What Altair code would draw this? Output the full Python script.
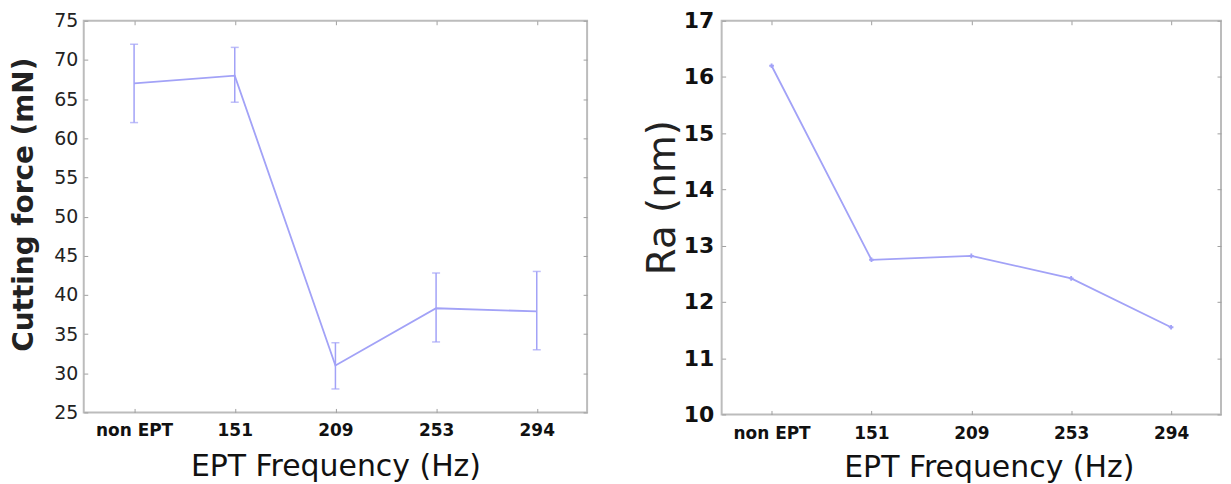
import altair as alt
import pandas as pd

categories = ["non EPT", "151", "209", "253", "294"]
force_mean = [67.0, 68.0, 31.0, 38.3, 37.9]
force_low = [62.0, 64.6, 28.0, 34.0, 33.0]
force_high = [72.0, 71.6, 33.9, 42.8, 43.0]
ra_values = [16.2, 12.75, 12.82, 12.42, 11.55]

force_ticks = [25, 30, 35, 40, 45, 50, 55, 60, 65, 70, 75]
ra_ticks = [10, 11, 12, 13, 14, 15, 16, 17]

LINE = "#a2a2f7"
FRAME = "#bcbcbc"
TICK = "#a0a0a0"
FONT = "DejaVu Sans"

df1 = pd.DataFrame({"cat": categories, "mean": force_mean, "lo": force_low, "hi": force_high})
df2 = pd.DataFrame({"cat": categories, "ra": ra_values})


def xenc(size, pad, tpad, tsize, **extra):
    return alt.X(
        "cat:N", sort=categories,
        scale=alt.Scale(type="point", padding=0.5),
        axis=alt.Axis(
            orient="bottom",
            title="EPT Frequency (Hz)", titleFontSize=tsize, titleFont=FONT,
            titleFontWeight="normal", titleColor="#111", titlePadding=tpad,
            labelFont=FONT, labelFontSize=size, labelFontWeight="bold",
            labelColor="#111", labelPadding=pad, labelAngle=0,
            domain=False, ticks=True, tickSize=4, offset=-4, tickColor=TICK,
            grid=False, **extra,
        ),
    )


def xmirror():
    return alt.X(
        "cat:N", sort=categories,
        scale=alt.Scale(type="point", padding=0.5),
        axis=alt.Axis(orient="top", title=None, labels=False, domain=False,
                      ticks=True, tickSize=4, offset=-4, tickColor=TICK, grid=False),
    )


# ---------- left panel ----------
yscale1 = alt.Scale(domain=[25, 75], nice=False, zero=False)
y1 = alt.Y(
    "mean:Q", scale=yscale1,
    axis=alt.Axis(
        orient="left",
        title="Cutting force (mN)", values=force_ticks, titleFont=FONT,
        titleFontSize=28, titleFontWeight="bold", titleColor="#222", titlePadding=15,
        titleY=184,
        labelFont=FONT, labelFontSize=19, labelColor="#222", labelPadding=6,
        domain=False, ticks=True, tickSize=4, offset=-4, tickColor=TICK, grid=False,
    ),
)
line1 = alt.Chart(df1).mark_line(color=LINE, strokeWidth=1.8).encode(
    x=xenc(17, 10, 13, 30), y=y1
)
err1 = alt.Chart(df1).mark_errorbar(
    ticks={"size": 8, "thickness": 1.5, "color": LINE}, color=LINE, thickness=1.5
).encode(
    x=alt.X("cat:N", sort=categories, axis=None),
    y=alt.Y("lo:Q", scale=yscale1, axis=None),
    y2="hi:Q",
)
mirror1 = alt.Chart(df1).mark_point(opacity=0).encode(
    x=xmirror(),
    y=alt.Y("mean:Q", scale=yscale1,
            axis=alt.Axis(orient="right", title=None, labels=False, values=force_ticks,
                          domain=False, ticks=True, tickSize=4, offset=-4,
                          tickColor=TICK, grid=False)),
)
left = alt.layer(line1, err1, mirror1).resolve_axis(x="independent", y="independent").properties(
    width=505, height=393
)

# ---------- right panel ----------
yscale2 = alt.Scale(domain=[10, 17], nice=False, zero=False)
line2 = alt.Chart(df2).mark_line(
    color=LINE, strokeWidth=1.8,
    point=alt.OverlayMarkDef(shape="cross", size=22, color=LINE, filled=True),
).encode(
    x=xenc(17, 11, 11, 30, titleX=268),
    y=alt.Y(
        "ra:Q", scale=yscale2,
        axis=alt.Axis(
            orient="left",
            title="Ra (nm)", values=ra_ticks, titleFont=FONT, titleFontSize=39,
            titleFontWeight="normal", titleColor="#222", titlePadding=1,
            titleY=177,
            labelFont=FONT, labelFontSize=22, labelFontWeight="bold", labelColor="#111",
            labelPadding=8, domain=False, ticks=True, tickSize=4, offset=-4,
            tickColor=TICK, grid=False,
        ),
    ),
)
mirror2 = alt.Chart(df2).mark_point(opacity=0).encode(
    x=xmirror(),
    y=alt.Y("ra:Q", scale=yscale2,
            axis=alt.Axis(orient="right", title=None, labels=False, values=ra_ticks,
                          domain=False, ticks=True, tickSize=4, offset=-4,
                          tickColor=TICK, grid=False)),
)
right = alt.layer(line2, mirror2).resolve_axis(x="independent", y="independent").properties(
    width=501, height=395
)

chart = alt.hconcat(left, right, spacing=53).properties(
    padding={"left": 1, "top": 0, "right": 0, "bottom": 0}
).configure_view(stroke=FRAME, strokeWidth=2)

chart.save("out.html", embed_options={"renderer": "svg", "actions": False})
